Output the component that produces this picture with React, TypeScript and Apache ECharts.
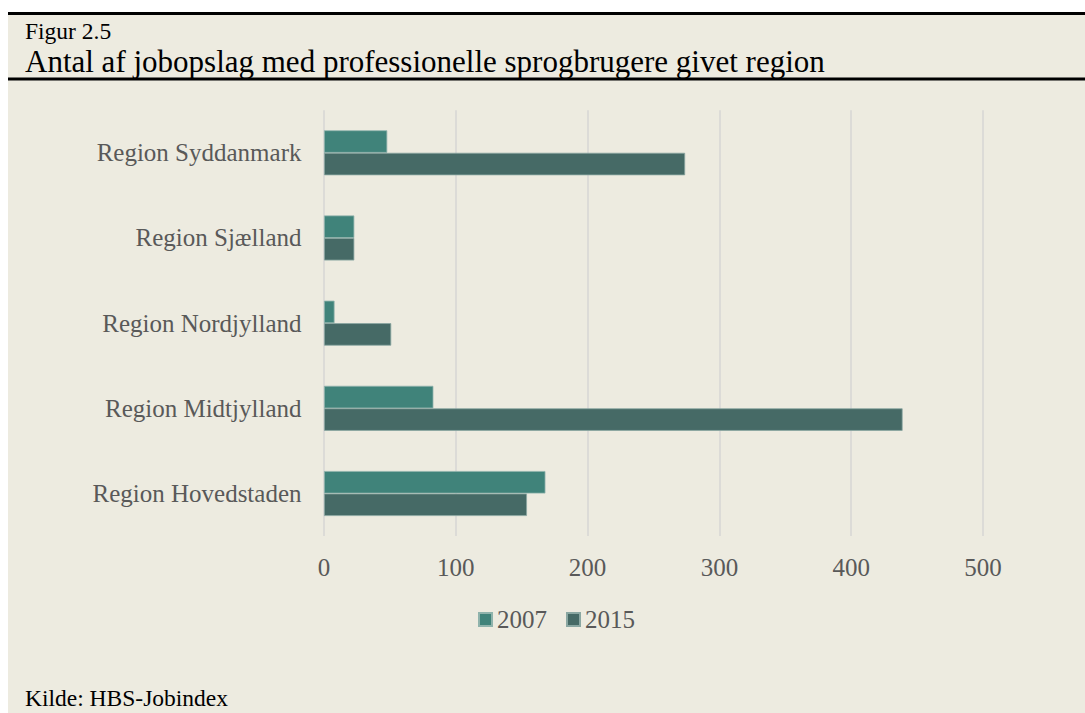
import React, { useEffect, useRef } from "react";
import * as echarts from "echarts";

const categories = [
  "Region Hovedstaden",
  "Region Midtjylland",
  "Region Nordjylland",
  "Region Sjælland",
  "Region Syddanmark",
];
const seriesNames = ["2007", "2015"];
const values2007 = [168, 83, 8, 23, 48];
const values2015 = [154, 439, 51, 23, 274];
const xTicks = [0, 100, 200, 300, 400, 500];

const figLabel = "Figur 2.5";
const titleText = "Antal af jobopslag med professionelle sprogbrugere givet region";
const sourceText = "Kilde: HBS-Jobindex";

const FONT = "'Liberation Serif', 'Times New Roman', serif";
const BG = "#EDEBE0";
const C2007 = "#40837A";
const C2015 = "#466A66";
const GRAY = "#595959";

export default function App() {
  const ref = useRef<HTMLDivElement>(null);
  useEffect(() => {
    if (!ref.current) return;
    const chart = echarts.init(ref.current, null, { renderer: "svg" });
    chart.setOption({
      animation: false,
      backgroundColor: "#ffffff",
      textStyle: { fontFamily: FONT },
      graphic: [
        { type: "rect", z: -10, shape: { x: 8, y: 12, width: 1077, height: 701 }, style: { fill: BG } },
        { type: "rect", shape: { x: 8, y: 12, width: 1077, height: 3 }, style: { fill: "#000" } },
        { type: "rect", shape: { x: 8, y: 77.5, width: 1077, height: 3 }, style: { fill: "#000" } },
        {
          type: "text",
          x: 25,
          y: 30.5,
          style: { text: figLabel, font: `23.5px ${FONT}`, fill: "#000", verticalAlign: "middle" },
        },
        {
          type: "text",
          x: 25,
          y: 61.5,
          style: { text: titleText, font: `31px ${FONT}`, fill: "#000", verticalAlign: "middle" },
        },
        {
          type: "text",
          x: 25,
          y: 698,
          style: { text: sourceText, font: `23.5px ${FONT}`, fill: "#000", verticalAlign: "middle" },
        },
      ],
      legend: {
        data: seriesNames,
        left: 478,
        top: 607,
        padding: 0,
        itemWidth: 13,
        itemHeight: 13,
        itemGap: 19,
        icon: "rect",
        textStyle: { fontFamily: FONT, fontSize: 25, color: GRAY },
      },
      grid: { left: 324, right: 102, top: 110.2, bottom: 176.9, containLabel: false },
      xAxis: {
        type: "value",
        min: xTicks[0],
        max: xTicks[xTicks.length - 1],
        interval: 100,
        axisLine: { show: false },
        axisTick: { show: false },
        axisLabel: { fontFamily: FONT, fontSize: 25, color: GRAY, margin: 19 },
        splitLine: { show: true, lineStyle: { color: "#D6D6D4", width: 1.5 } },
      },
      yAxis: {
        type: "category",
        data: categories,
        axisLine: { show: false },
        axisTick: { show: false },
        axisLabel: { fontFamily: FONT, fontSize: 25, color: GRAY, margin: 22.5 },
        splitLine: { show: false },
      },
      series: [
        {
          name: seriesNames[0],
          type: "bar",
          data: values2007,
          barWidth: 22.5,
          barGap: "0%",
          itemStyle: { color: C2007, borderColor: "#8FB3AC", borderWidth: 0.8 },
        },
        {
          name: seriesNames[1],
          type: "bar",
          data: values2015,
          barWidth: 22.5,
          barGap: "0%",
          itemStyle: { color: C2015, borderColor: "#8AA7A2", borderWidth: 0.8 },
        },
      ],
    });
    return () => chart.dispose();
  }, []);
  return (
    <div
      ref={ref}
      style={{ position: "absolute", left: 0, top: 0, width: 1085, height: 713 }}
    />
  );
}
